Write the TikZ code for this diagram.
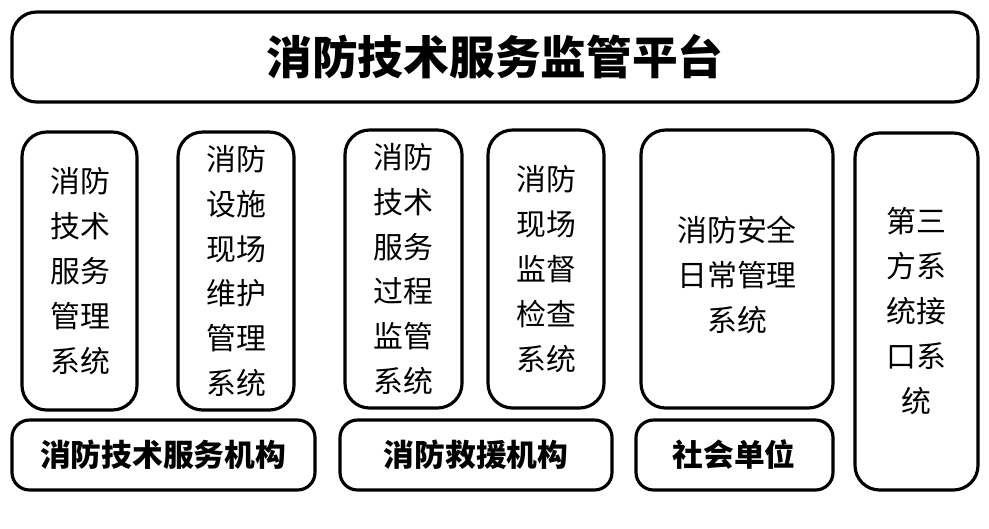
\documentclass[tikz,border=0pt]{standalone}
\usepackage{fontspec}
\setmainfont{Noto Sans CJK SC}
\usetikzlibrary{positioning}
\tikzset{
  panel/.style={draw, line width=1.8pt, rounded corners=14pt, inner sep=0pt},
  body/.style={font=\fontsize{17pt}{25.5pt}\selectfont, align=center},
  tag/.style={font=\fontsize{17.5pt}{20pt}\selectfont\bfseries}
}
\begin{document}
\begin{tikzpicture}[x=0.02cm,y=-0.02cm]
\useasboundingbox (0,0) rectangle (989,528);
% top platform
\draw[panel] (12,12) rectangle (978,102);
\node[font=\fontsize{26pt}{30pt}\selectfont\bfseries] (plat) at (495,57) {消防技术服务监管平台};
% system columns
\draw[panel] (22,132) rectangle (137,410);
\node[body] (s1) at (80,271) {消防\\技术\\服务\\管理\\系统};
\draw[panel] (178,132) rectangle (294,410);
\node[body] (s2) at (236,271) {消防\\设施\\现场\\维护\\管理\\系统};
\draw[panel] (345,130) rectangle (462,408);
\node[body] (s3) at (403,269) {消防\\技术\\服务\\过程\\监管\\系统};
\draw[panel] (488,130) rectangle (604,408);
\node[body] (s4) at (546,269) {消防\\现场\\监督\\检查\\系统};
\draw[panel] (641,130) rectangle (833,408);
\node[body] (s5) at (737,275) {消防安全\\日常管理\\系统};
\draw[panel] (855,133) rectangle (978,490);
\node[body] (s6) at (916,311) {第三\\方系\\统接\\口系\\统};
% organisations
\draw[panel, rounded corners=10pt] (12,420) rectangle (315,490);
\node[tag] (o1) at (163,455) {消防技术服务机构};
\draw[panel, rounded corners=10pt] (340,420) rectangle (612,490);
\node[tag] (o2) at (476,455) {消防救援机构};
\draw[panel, rounded corners=10pt] (636,420) rectangle (833,490);
\node[tag] (o3) at (734,455) {社会单位};
\end{tikzpicture}
\end{document}
